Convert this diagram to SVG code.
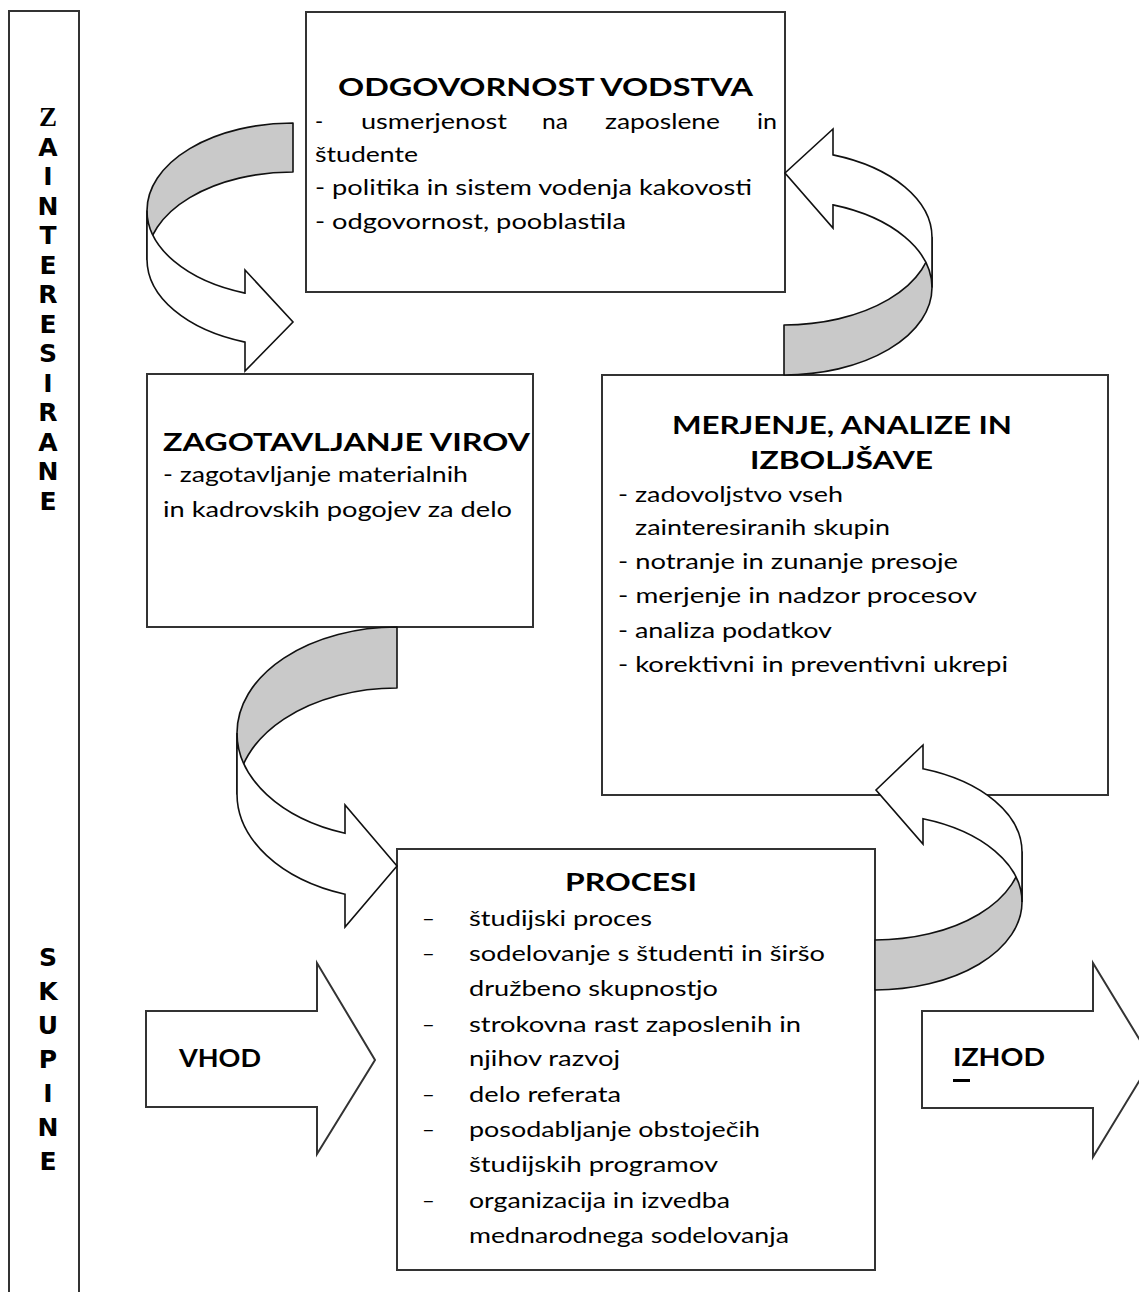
<svg xmlns="http://www.w3.org/2000/svg" width="1139" height="1292" viewBox="0 0 1139 1292">
<style>
.box{fill:#fff;stroke:#333;stroke-width:2}
.back{fill:#c9c9c9;stroke:#111;stroke-width:1.6;stroke-linejoin:round}
.front{fill:#fff;stroke:#111;stroke-width:1.6;stroke-linejoin:miter}
.blk{fill:#fff;stroke:#333;stroke-width:2}
.t{font-family:Lato,"Open Sans","Liberation Sans",sans-serif;font-size:22px;fill:#000}
.h{font-family:Lato,"Open Sans","Liberation Sans",sans-serif;font-size:24px;font-weight:700;fill:#000}
.v{font-family:"DejaVu Sans",Verdana,sans-serif;font-size:25px;font-weight:700;fill:#000;text-anchor:middle}
.vz{font-family:"Liberation Serif","Times New Roman",serif;font-size:27px;font-weight:700;fill:#000;text-anchor:middle}
</style>
<rect width="1139" height="1292" fill="#fff"/>

<g id="side-bar">
<rect class="blk" x="9" y="11" width="70" height="1300"/>
<text class="vz" x="48" y="126">Z</text>
<text class="v" x="48" y="156">A</text>
<text class="v" x="48" y="185">I</text>
<text class="v" x="48" y="215">N</text>
<text class="v" x="48" y="244">T</text>
<text class="v" x="48" y="274">E</text>
<text class="v" x="48" y="303">R</text>
<text class="v" x="48" y="333">E</text>
<text class="v" x="48" y="362">S</text>
<text class="v" x="48" y="392">I</text>
<text class="v" x="48" y="421">R</text>
<text class="v" x="48" y="451">A</text>
<text class="v" x="48" y="480">N</text>
<text class="v" x="48" y="510">E</text>
<text class="v" x="48" y="966">S</text>
<text class="v" x="48" y="1000">K</text>
<text class="v" x="48" y="1034">U</text>
<text class="v" x="48" y="1068">P</text>
<text class="v" x="48" y="1102">I</text>
<text class="v" x="48" y="1136">N</text>
<text class="v" x="48" y="1170">E</text>
</g>

<g id="node-vodstvo">
<rect class="box" x="306" y="12" width="479" height="280"/>
<text class="h" x="338" y="96" textLength="415" lengthAdjust="spacingAndGlyphs">ODGOVORNOST VODSTVA</text>
<text class="t" x="315" y="129">-</text>
<text class="t" x="361" y="129" textLength="146" lengthAdjust="spacingAndGlyphs">usmerjenost</text>
<text class="t" x="542" y="129" textLength="26" lengthAdjust="spacingAndGlyphs">na</text>
<text class="t" x="605" y="129" textLength="115" lengthAdjust="spacingAndGlyphs">zaposlene</text>
<text class="t" x="757" y="129" textLength="20" lengthAdjust="spacingAndGlyphs">in</text>
<text class="t" x="315" y="162" textLength="103" lengthAdjust="spacingAndGlyphs">študente</text>
<text class="t" x="315" y="195" textLength="437" lengthAdjust="spacingAndGlyphs">- politika in sistem vodenja kakovosti</text>
<text class="t" x="315" y="229" textLength="311" lengthAdjust="spacingAndGlyphs">- odgovornost, pooblastila</text>
</g>

<g id="node-viri">
<rect class="box" x="147" y="374" width="386" height="253"/>
<text class="h" x="163" y="451" textLength="367" lengthAdjust="spacingAndGlyphs">ZAGOTAVLJANJE VIROV</text>
<text class="t" x="163" y="482" textLength="305" lengthAdjust="spacingAndGlyphs">- zagotavljanje materialnih</text>
<text class="t" x="163" y="517" textLength="349" lengthAdjust="spacingAndGlyphs">in kadrovskih pogojev za delo</text>
</g>

<g id="node-merjenje">
<rect class="box" x="602" y="375" width="506" height="420"/>
<text class="h" x="672" y="434" textLength="340" lengthAdjust="spacingAndGlyphs">MERJENJE, ANALIZE IN</text>
<text class="h" x="750" y="469" textLength="183" lengthAdjust="spacingAndGlyphs">IZBOLJŠAVE</text>
<text class="t" x="618" y="502" textLength="225" lengthAdjust="spacingAndGlyphs">- zadovoljstvo vseh</text>
<text class="t" x="635" y="535" textLength="255" lengthAdjust="spacingAndGlyphs">zainteresiranih skupin</text>
<text class="t" x="618" y="569" textLength="340" lengthAdjust="spacingAndGlyphs">- notranje in zunanje presoje</text>
<text class="t" x="618" y="603" textLength="359" lengthAdjust="spacingAndGlyphs">- merjenje in nadzor procesov</text>
<text class="t" x="618" y="638" textLength="214" lengthAdjust="spacingAndGlyphs">- analiza podatkov</text>
<text class="t" x="618" y="672" textLength="390" lengthAdjust="spacingAndGlyphs">- korektivni in preventivni ukrepi</text>
</g>

<g id="node-procesi">
<rect class="box" x="397" y="849" width="478" height="421"/>
<text class="h" x="565" y="891" textLength="132" lengthAdjust="spacingAndGlyphs">PROCESI</text>
<text class="t" x="422" y="926">–</text>
<text class="t" x="469" y="926" textLength="183" lengthAdjust="spacingAndGlyphs">študijski proces</text>
<text class="t" x="422" y="961">–</text>
<text class="t" x="469" y="961" textLength="356" lengthAdjust="spacingAndGlyphs">sodelovanje s študenti in širšo</text>
<text class="t" x="469" y="996" textLength="249" lengthAdjust="spacingAndGlyphs">družbeno skupnostjo</text>
<text class="t" x="422" y="1032">–</text>
<text class="t" x="469" y="1032" textLength="332" lengthAdjust="spacingAndGlyphs">strokovna rast zaposlenih in</text>
<text class="t" x="469" y="1066" textLength="151" lengthAdjust="spacingAndGlyphs">njihov razvoj</text>
<text class="t" x="422" y="1102">–</text>
<text class="t" x="469" y="1102" textLength="152" lengthAdjust="spacingAndGlyphs">delo referata</text>
<text class="t" x="422" y="1137">–</text>
<text class="t" x="469" y="1137" textLength="291" lengthAdjust="spacingAndGlyphs">posodabljanje obstoječih</text>
<text class="t" x="469" y="1172" textLength="249" lengthAdjust="spacingAndGlyphs">študijskih programov</text>
<text class="t" x="422" y="1208">–</text>
<text class="t" x="469" y="1208" textLength="261" lengthAdjust="spacingAndGlyphs">organizacija in izvedba</text>
<text class="t" x="469" y="1243" textLength="320" lengthAdjust="spacingAndGlyphs">mednarodnega sodelovanja</text>
</g>

<g id="node-vhod">
<path class="blk" d="M146,1011 L317,1011 L317,963 L375,1060 L317,1154 L317,1107 L146,1107 Z"/>
<text class="h" x="179" y="1067" textLength="82" lengthAdjust="spacingAndGlyphs">VHOD</text>
</g>

<g id="node-izhod">
<path class="blk" d="M922,1011 L1093,1011 L1093,963 L1152,1060 L1093,1157 L1093,1108 L922,1108 Z"/>
<text class="h" x="953" y="1066" textLength="92" lengthAdjust="spacingAndGlyphs">IZHOD</text>
<rect x="953" y="1079" width="17" height="3" fill="#000"/>
</g>

<g id="connectors">
<g id="arrow-viri-vodstvo">
<path class="back" d="M293,123 A146 87.5 0 0 0 147,210.5 L147,259.5 A146 87.5 0 0 1 293,172 Z"/>
<path class="front" d="M147,210.5 A146 87.5 0 0 0 245,293.1 L245,270 L293,322 L245,371 L245,342.1 A146 87.5 0 0 1 147,259.5 Z"/>
</g>
<g id="arrow-merjenje-vodstvo">
<path class="back" d="M784,375 A148 87.5 0 0 0 932,287.5 L932,237.5 A148 87.5 0 0 1 784,325 Z"/>
<path class="front" d="M932,287.5 A148 87.5 0 0 0 833,204.9 L833,228 L785,173 L833,129 L833,154.9 A148 87.5 0 0 1 932,237.5 Z"/>
</g>
<g id="arrow-viri-procesi">
<path class="back" d="M397,627 A160 106 0 0 0 237,733 L237,794 A160 106 0 0 1 397,688 Z"/>
<path class="front" d="M237,733 A160 106 0 0 0 345,833.2 L345,805 L397,866 L345,927 L345,894.2 A160 106 0 0 1 237,794 Z"/>
</g>
<g id="arrow-procesi-merjenje">
<path class="back" d="M875,990 A147 88 0 0 0 1022,902 L1022,852 A147 88 0 0 1 875,940 Z"/>
<path class="front" d="M1022,902 A147 88 0 0 0 923,818.8 L923,844 L876,790 L923,745 L923,768.8 A147 88 0 0 1 1022,852 Z"/>
</g>
</g>
</svg>
